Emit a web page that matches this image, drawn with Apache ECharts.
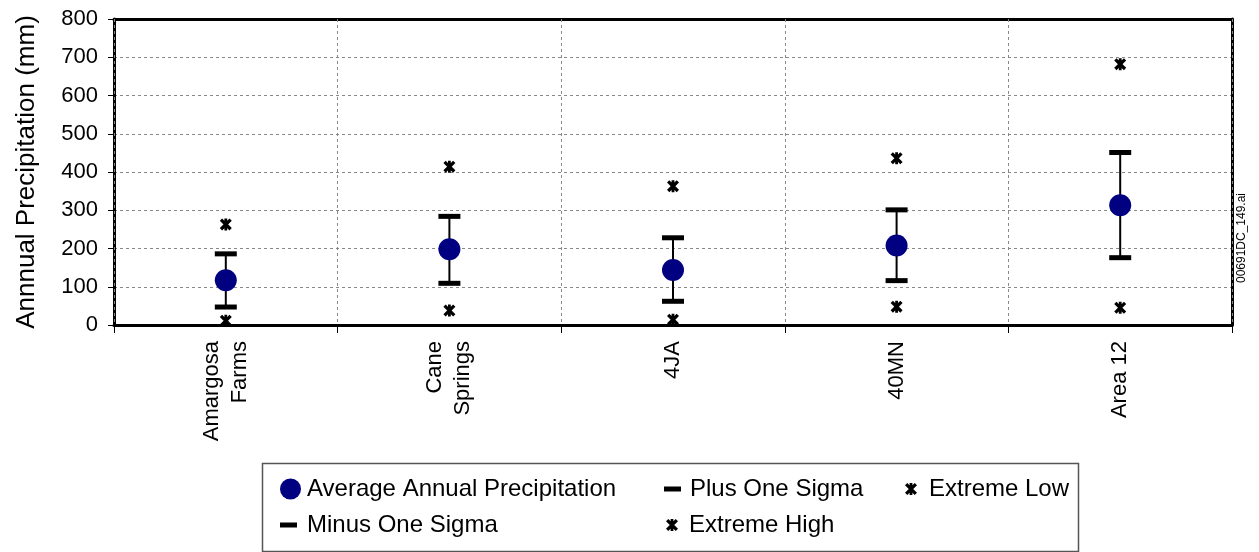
<!DOCTYPE html>
<html>
<head>
<meta charset="utf-8">
<script src="https://cdn.jsdelivr.net/npm/echarts@6/dist/echarts.min.js"></script>
<style>
html,body{margin:0;padding:0;background:#fff;}
#chart{width:1259px;height:552px;}
</style>
</head>
<body>
<div id="chart"></div>
<script>
var categories = ['Amargosa\nFarms', 'Cane\nSprings', '4JA', '40MN', 'Area 12'];
var average = [117, 198, 144, 208, 313];
var plusSigma = [186, 284, 228, 301, 451];
var minusSigma = [47, 109, 62, 116, 176];
var extremeHigh = [263, 414, 363, 436, 682];
var extremeLow = [11, 38, 14, 48, 45];
var yTicks = [0, 100, 200, 300, 400, 500, 600, 700, 800];

var STAR = 'path://M0,2.3L2.3,0L12,9.7L9.7,12ZM9.7,0L12,2.3L2.3,12L0,9.7ZM4.6,0L7.4,0L7.4,12L4.6,12Z';
var FONT = 'Liberation Sans, Arial, sans-serif';

function pairs(arr){ return arr.map(function(v,i){ return [i, v]; }); }
var errData = categories.map(function(c,i){ return [i, minusSigma[i], plusSigma[i]]; });

var chart = echarts.init(document.getElementById('chart'), null, {renderer:'canvas'});

function leg(name, left, top, icon, w, h, color, pad){
  return {
    show: true, orient: 'horizontal', left: left, top: top, padding: 0,
    itemWidth: w, itemHeight: h, itemGap: 0, selectedMode: false,
    data: [{name: name, icon: icon, itemStyle: {color: color, borderWidth: 0}}],
    textStyle: {fontSize: 24, fontFamily: FONT, color: '#000', padding: [0,0,0,pad]}
  };
}

var option = {
  animation: false,
  backgroundColor: '#fff',
  grid: {left: 114, right: 27, top: 19, bottom: 227, show: false},
  xAxis: [{
    type: 'category', data: categories, boundaryGap: true,
    axisLine: {show: true, lineStyle: {color: '#000', width: 3}},
    axisTick: {show: true, length: 8, lineStyle: {color: '#000', width: 1}},
    axisLabel: {rotate: 90, fontSize: 22, fontFamily: FONT, color: '#000', margin: 16, lineHeight: 28},
    splitLine: {show: true, lineStyle: {color: '#888', type: [3, 3], width: 1}},
    z: 1
  }, {
    type: 'category', data: categories, boundaryGap: true, position: 'top',
    axisLine: {show: true, onZero: false, lineStyle: {color: '#000', width: 3}},
    axisTick: {show: false}, axisLabel: {show: false}, splitLine: {show: false}
  }],
  yAxis: [{
    type: 'value', min: yTicks[0], max: yTicks[yTicks.length-1], interval: 100,
    name: 'Annnual Precipitation (mm)', nameLocation: 'middle', nameGap: 74,
    nameTextStyle: {fontSize: 26, fontFamily: FONT, color: '#000'},
    axisLine: {show: true, lineStyle: {color: '#000', width: 3}},
    axisTick: {show: true, length: 6, lineStyle: {color: '#000', width: 1}},
    axisLabel: {fontSize: 22, fontFamily: FONT, color: '#000', margin: 16},
    splitLine: {show: true, lineStyle: {color: '#888', type: [3, 3], width: 1}}
  }, {
    type: 'value', min: yTicks[0], max: yTicks[yTicks.length-1], interval: 100, position: 'right',
    axisLine: {show: true, onZero: false, lineStyle: {color: '#000', width: 3}},
    axisTick: {show: false}, axisLabel: {show: false}, splitLine: {show: false}
  }],
  legend: [
    leg('Average Annual Precipitation', 280, 477, 'circle', 21, 21, '#000080', 1),
    leg('Plus One Sigma', 664, 477, 'rect', 17, 5, '#000', 4),
    leg('Extreme Low', 905, 477, STAR, 12, 12, '#000', 7),
    leg('Minus One Sigma', 280, 513, 'rect', 17, 5, '#000', 5),
    leg('Extreme High', 666, 513, STAR, 12, 12, '#000', 6)
  ],
  graphic: [
    {type: 'rect', left: 260, top: 461, shape: {width: 816, height: 88}, style: {fill: 'none', stroke: '#555', lineWidth: 1.5}, silent: true},
    {type: 'text', x: 1242, y: 238, rotation: Math.PI/2, style: {text: '00691DC_149.ai', fontSize: 12, fontFamily: FONT, fill: '#000', align: 'center', verticalAlign: 'middle'}, silent: true}
  ],
  series: [
    {
      name: 'errorLine', type: 'custom', z: 2,
      encode: {x: 0, y: [1, 2]},
      data: errData,
      renderItem: function(params, api){
        var a = api.coord([api.value(0), api.value(1)]);
        var b = api.coord([api.value(0), api.value(2)]);
        return {type: 'line', shape: {x1: a[0], y1: a[1], x2: b[0], y2: b[1]}, style: {stroke: '#000', lineWidth: 2}};
      }
    },
    {name: 'Plus One Sigma', type: 'scatter', z: 3, symbol: 'rect', symbolSize: [22, 5], itemStyle: {color: '#000', opacity: 1}, data: pairs(plusSigma)},
    {name: 'Minus One Sigma', type: 'scatter', z: 3, symbol: 'rect', symbolSize: [22, 5], itemStyle: {color: '#000', opacity: 1}, data: pairs(minusSigma)},
    {name: 'Extreme Low', type: 'scatter', z: 3, symbol: STAR, symbolSize: [12, 12], itemStyle: {color: '#000', opacity: 1}, data: pairs(extremeLow)},
    {name: 'Extreme High', type: 'scatter', z: 3, symbol: STAR, symbolSize: [12, 12], itemStyle: {color: '#000', opacity: 1}, data: pairs(extremeHigh)},
    {name: 'Average Annual Precipitation', type: 'scatter', z: 4, symbol: 'circle', symbolSize: 22, itemStyle: {color: '#000080', opacity: 1}, data: pairs(average)}
  ]
};
chart.setOption(option);
</script>
</body>
</html>
